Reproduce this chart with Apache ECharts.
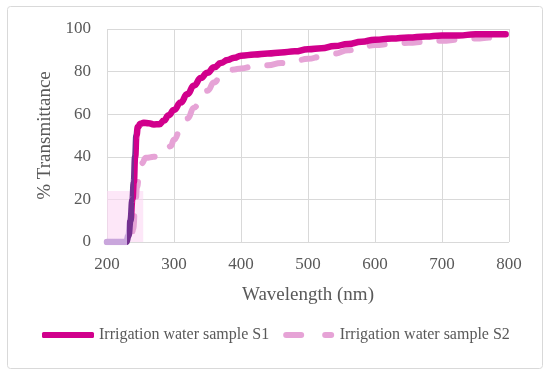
<!DOCTYPE html>
<html><head><meta charset="utf-8">
<script src="https://cdn.jsdelivr.net/npm/echarts@6/dist/echarts.min.js"></script>
<style>html,body{margin:0;padding:0;background:#fff}#c{width:550px;height:375px}</style>
</head><body><div id="c"></div>
<script>
const s1Wavelength = [200,210,220,229,232,235,238,240,242,244,246,250,255,262,270,278,285,292,300,310,320,330,340,350,360,370,380,390,400,420,440,460,480,500,520,540,560,580,600,625,650,675,700,725,750,775,795];
const s1Values     = [0,0,0,0,3,10,20,28,40,50,54,55.5,56,55.8,55.2,55.3,57,59.5,62,65.5,69.5,73.5,77,79.5,82,84,85.5,86.5,87.5,88,88.5,89,89.5,90.5,91,92,93,94,95,95.5,96,96.5,97,97,97.5,97.5,97.5];
const s2Wavelength = [200,230,236,239,242,245,248,252,258,270,280,288,295,300,310,320,330,340,350,360,370,380,390,400,420,440,460,480,500,520,540,560,580,600,625,650,675,700,725,750,775,795];
const s2Values     = [0,0,0,6,16,26,33,37,39.5,40,40.5,42,45,48,53,58,63,67.5,71,75,78,80,81,81.5,82.5,83,84,85,86,87,88.5,90,91.5,92.5,93,93.5,94,94.5,95,95.5,96,96.5];
const seriesNames = ['Irrigation water sample S1','Irrigation water sample S2'];
const xTitle = 'Wavelength (nm)';
const yTitle = '% Transmittance';

const font = 'Liberation Serif';
const c1 = '#d1008c', c2 = '#e6a3d6';
const chart = echarts.init(document.getElementById('c'));
chart.setOption({
  animation:false,
  graphic:[{type:'rect',shape:{x:7.5,y:6.5,width:535,height:362,r:3},style:{fill:'none',stroke:'#d9d9d9',lineWidth:1},z:-10}],
  grid:{left:107,right:41,top:29,bottom:133},
  xAxis:{type:'value',min:200,max:800,interval:100,
    name:xTitle,nameLocation:'middle',nameGap:44,
    nameTextStyle:{fontFamily:font,fontSize:19,color:'#595959'},
    axisLine:{show:false},axisTick:{show:false},
    axisLabel:{fontFamily:font,fontSize:17,color:'#595959',margin:14},
    splitLine:{lineStyle:{color:'#d9d9d9',width:1}}},
  yAxis:{type:'value',min:0,max:100,interval:20,
    name:yTitle,nameLocation:'middle',nameGap:44,
    nameTextStyle:{fontFamily:font,fontSize:19,color:'#595959'},
    axisLine:{show:false},axisTick:{show:false},
    axisLabel:{fontFamily:font,fontSize:17,color:'#595959',margin:16},
    splitLine:{lineStyle:{color:'#d9d9d9',width:1}}},
  visualMap:{show:false,type:'piecewise',seriesIndex:1,dimension:0,
    pieces:[{lt:230,color:'#c9a6dc'},{gte:230,lt:241,color:'#74308f'},{gte:241,color:c1}]},
  legend:{left:37,top:322,itemWidth:52,itemHeight:6,itemGap:14,
    textStyle:{fontFamily:font,fontSize:16,color:'#595959'},
    data:[
      {name:seriesNames[0],icon:'roundRect',itemStyle:{color:c1}},
      {name:seriesNames[1],icon:'path://M3,0h15a3,3 0 0 1 0,6h-15a3,3 0 0 1 0,-6z M42,0h6a3,3 0 0 1 0,6h-6a3,3 0 0 1 0,-6z',itemStyle:{color:c2}}
    ]},
  series:[
    {name:seriesNames[1],type:'line',showSymbol:false,symbol:'none',smooth:true,smoothMonotone:'x',
     data:s2Wavelength.map((w,i)=>[w,s2Values[i]]),
     lineStyle:{color:c2,width:6,type:[15,20],cap:'round'},itemStyle:{color:c2},z:2},
    {name:seriesNames[0],type:'line',showSymbol:false,symbol:'none',smooth:true,smoothMonotone:'x',
     data:s1Wavelength.map((w,i)=>[w,s1Values[i]]),
     lineStyle:{width:6.5,cap:'round',join:'round'},itemStyle:{color:c1},z:3,
     markArea:{silent:true,itemStyle:{color:'rgba(252,215,244,0.6)'},data:[[{coord:[197,24]},{coord:[254,-1.3]}]]}}
  ]
});
</script></body></html>
